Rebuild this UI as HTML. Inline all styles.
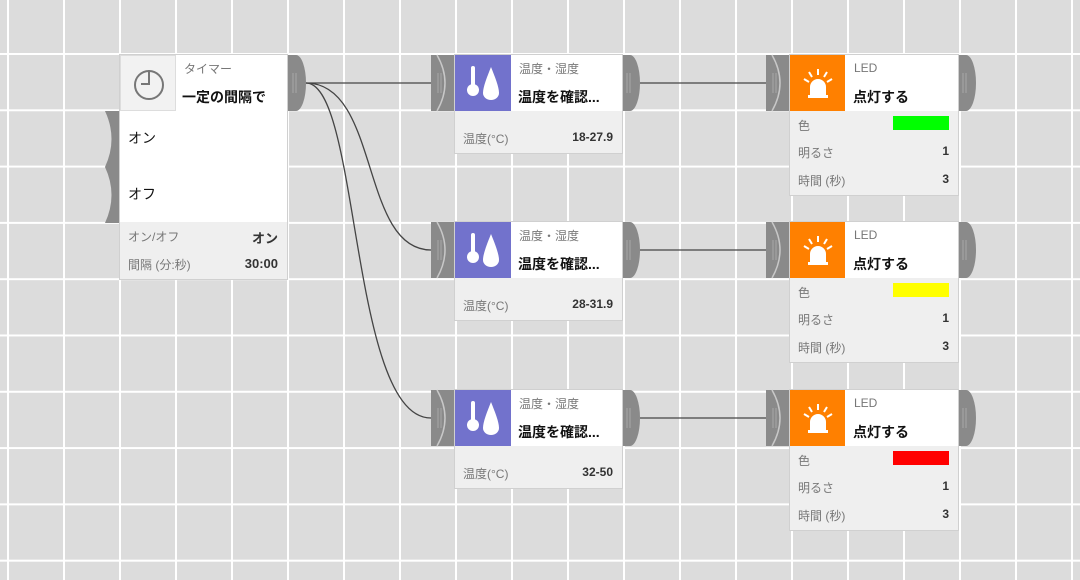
<!DOCTYPE html>
<html><head><meta charset="utf-8"><style>
*{margin:0;padding:0;box-sizing:border-box}
body{width:1080px;height:580px;overflow:hidden;background:#dcdcdc;font-family:"Liberation Sans","Noto Sans CJK JP",sans-serif;position:relative}
.grid{position:absolute;left:0;top:0;width:1080px;height:580px;
background-image:linear-gradient(to right,#fff 0,#fff 2px,transparent 2px),linear-gradient(to bottom,#fff 0,#fff 2px,transparent 2px);
background-size:56px 56.3px;background-position:7px 53px}
.card{position:absolute;background:#fff;box-shadow:0 0 0 1px #d0d0d0}
.icon{position:absolute;left:0;top:0;width:56px;height:56px}
.sub{position:absolute;font-size:12px;color:#777}
.ttl{position:absolute;font-size:14px;font-weight:bold;color:#111}
.foot{position:absolute;left:0;right:0;background:#efefef}
.row{position:absolute;left:8px;right:9px;font-size:12px;color:#777}
.row b{position:absolute;right:0;top:0;color:#333;font-size:12px}
.sw{position:absolute;right:0;top:-1px;width:56px;height:14px}
svg.main{position:absolute;left:0;top:0}
</style></head><body>
<div class="grid"></div>

<svg class="main" width="1080" height="580">
<defs>
<g id="outp"><path d="M0,0 h8 A10,28 0 0 1 8,56 h-8 z" fill="#8a8a8a"/><path d="M5,18 v20 M8,18 v20" stroke="#a8a8a8" stroke-width="1"/></g>
<g id="inp"><path d="M0,0 h24 v56 h-24 z" fill="#8a8a8a"/><path d="M6,0 Q22,28 6,56" stroke="#c8c8c8" stroke-width="1.5" fill="none"/><path d="M7,18 v20 M10,18 v20" stroke="#a8a8a8" stroke-width="1"/></g>
</defs>
<use href="#outp" x="288" y="55"/>
<path d="M105,111 L120,111 L120,167 L105,167 Q118,139 105,111 Z" fill="#8a8a8a"/>
<path d="M105,167 L120,167 L120,223 L105,223 Q118,195 105,167 Z" fill="#8a8a8a"/>
<use href="#inp" x="431" y="55"/><use href="#outp" x="622" y="55"/>
<use href="#inp" x="431" y="222"/><use href="#outp" x="622" y="222"/>
<use href="#inp" x="431" y="390"/><use href="#outp" x="622" y="390"/>
<use href="#inp" x="766" y="55"/><use href="#outp" x="958" y="55"/>
<use href="#inp" x="766" y="222"/><use href="#outp" x="958" y="222"/>
<use href="#inp" x="766" y="390"/><use href="#outp" x="958" y="390"/>
<g stroke="#444" stroke-width="1.3" fill="none">
<path d="M306,83 L431,83"/>
<path d="M306,83 C380,83 360,250 431,250"/>
<path d="M306,83 C360,83 350,418 431,418"/>
<path d="M640,83 L766,83"/>
<path d="M640,250 L766,250"/>
<path d="M640,418 L766,418"/>
</g>
</svg>

<div class="card" style="left:120px;top:55px;width:167px;height:224px">
 <div class="icon" style="background:#f2f2f2;border:1px solid #ddd;width:56px">
  <svg width="56" height="56"><circle cx="28" cy="29" r="14" stroke="#777" stroke-width="2" fill="none"/><path d="M28,14 v14 h-8" stroke="#777" stroke-width="2" fill="none"/></svg>
 </div>
 <div class="sub" style="left:64px;top:5px">タイマー</div>
 <div class="ttl" style="left:62px;top:32px">一定の間隔で</div>
 <div style="position:absolute;left:8px;top:73px;font-size:14px;color:#111">オン</div>
 <div style="position:absolute;left:8px;top:129px;font-size:14px;color:#111">オフ</div>
 <div class="foot" style="top:167px;height:57px">
  <div class="row" style="top:6px">オン/オフ<b style="font-size:13px">オン</b></div>
  <div class="row" style="top:34px">間隔 (分:秒)<b style="font-size:13px">30:00</b></div>
 </div>
</div>

<div class="card" style="left:455px;top:55px;width:167px;height:98px">
 <div class="icon" style="background:#7272cc"><svg width="56" height="56"><rect x="16" y="11" width="4" height="22" rx="2" fill="#fff"/><circle cx="18" cy="35" r="6" fill="#fff"/><path d="M36,12 C32,22 28,32 28,38 a8,7 0 0 0 16,0 C44,32 40,22 36,12z" fill="#fff"/></svg></div>
 <div class="sub" style="left:64px;top:5px">温度・湿度</div>
 <div class="ttl" style="left:63px;top:32px">温度を確認...</div>
 <div class="foot" style="top:56px;height:42px"><div class="row" style="top:19px">温度(°C)<b>18-27.9</b></div></div>
</div>
<div class="card" style="left:455px;top:222px;width:167px;height:98px">
 <div class="icon" style="background:#7272cc"><svg width="56" height="56"><rect x="16" y="11" width="4" height="22" rx="2" fill="#fff"/><circle cx="18" cy="35" r="6" fill="#fff"/><path d="M36,12 C32,22 28,32 28,38 a8,7 0 0 0 16,0 C44,32 40,22 36,12z" fill="#fff"/></svg></div>
 <div class="sub" style="left:64px;top:5px">温度・湿度</div>
 <div class="ttl" style="left:63px;top:32px">温度を確認...</div>
 <div class="foot" style="top:56px;height:42px"><div class="row" style="top:19px">温度(°C)<b>28-31.9</b></div></div>
</div>
<div class="card" style="left:455px;top:390px;width:167px;height:98px">
 <div class="icon" style="background:#7272cc"><svg width="56" height="56"><rect x="16" y="11" width="4" height="22" rx="2" fill="#fff"/><circle cx="18" cy="35" r="6" fill="#fff"/><path d="M36,12 C32,22 28,32 28,38 a8,7 0 0 0 16,0 C44,32 40,22 36,12z" fill="#fff"/></svg></div>
 <div class="sub" style="left:64px;top:5px">温度・湿度</div>
 <div class="ttl" style="left:63px;top:32px">温度を確認...</div>
 <div class="foot" style="top:56px;height:42px"><div class="row" style="top:19px">温度(°C)<b>32-50</b></div></div>
</div>

<div class="card" style="left:790px;top:55px;width:168px;height:140px">
 <div class="icon" style="background:#ff8000;width:55px"><svg width="56" height="56"><path d="M20,40 v-8 a8,8 0 0 1 16,0 v8z M18,40 h20 v3 h-20z" fill="#fff"/><g stroke="#fff" stroke-width="2"><path d="M28,14v6M19,17l3,5M37,17l-3,5M14,24l5,3M42,24l-5,3"/></g></svg></div>
 <div class="sub" style="left:64px;top:6px">LED</div>
 <div class="ttl" style="left:63px;top:32px">点灯する</div>
 <div class="foot" style="top:56px;height:84px">
  <div class="row" style="top:6px">色<div class="sw" style="background:#00ff00"></div></div>
  <div class="row" style="top:33px">明るさ<b>1</b></div>
  <div class="row" style="top:61px">時間 (秒)<b>3</b></div>
 </div>
</div>
<div class="card" style="left:790px;top:222px;width:168px;height:140px">
 <div class="icon" style="background:#ff8000;width:55px"><svg width="56" height="56"><path d="M20,40 v-8 a8,8 0 0 1 16,0 v8z M18,40 h20 v3 h-20z" fill="#fff"/><g stroke="#fff" stroke-width="2"><path d="M28,14v6M19,17l3,5M37,17l-3,5M14,24l5,3M42,24l-5,3"/></g></svg></div>
 <div class="sub" style="left:64px;top:6px">LED</div>
 <div class="ttl" style="left:63px;top:32px">点灯する</div>
 <div class="foot" style="top:56px;height:84px">
  <div class="row" style="top:6px">色<div class="sw" style="background:#ffff00"></div></div>
  <div class="row" style="top:33px">明るさ<b>1</b></div>
  <div class="row" style="top:61px">時間 (秒)<b>3</b></div>
 </div>
</div>
<div class="card" style="left:790px;top:390px;width:168px;height:140px">
 <div class="icon" style="background:#ff8000;width:55px"><svg width="56" height="56"><path d="M20,40 v-8 a8,8 0 0 1 16,0 v8z M18,40 h20 v3 h-20z" fill="#fff"/><g stroke="#fff" stroke-width="2"><path d="M28,14v6M19,17l3,5M37,17l-3,5M14,24l5,3M42,24l-5,3"/></g></svg></div>
 <div class="sub" style="left:64px;top:6px">LED</div>
 <div class="ttl" style="left:63px;top:32px">点灯する</div>
 <div class="foot" style="top:56px;height:84px">
  <div class="row" style="top:6px">色<div class="sw" style="background:#ff0000"></div></div>
  <div class="row" style="top:33px">明るさ<b>1</b></div>
  <div class="row" style="top:61px">時間 (秒)<b>3</b></div>
 </div>
</div>
</body></html>
